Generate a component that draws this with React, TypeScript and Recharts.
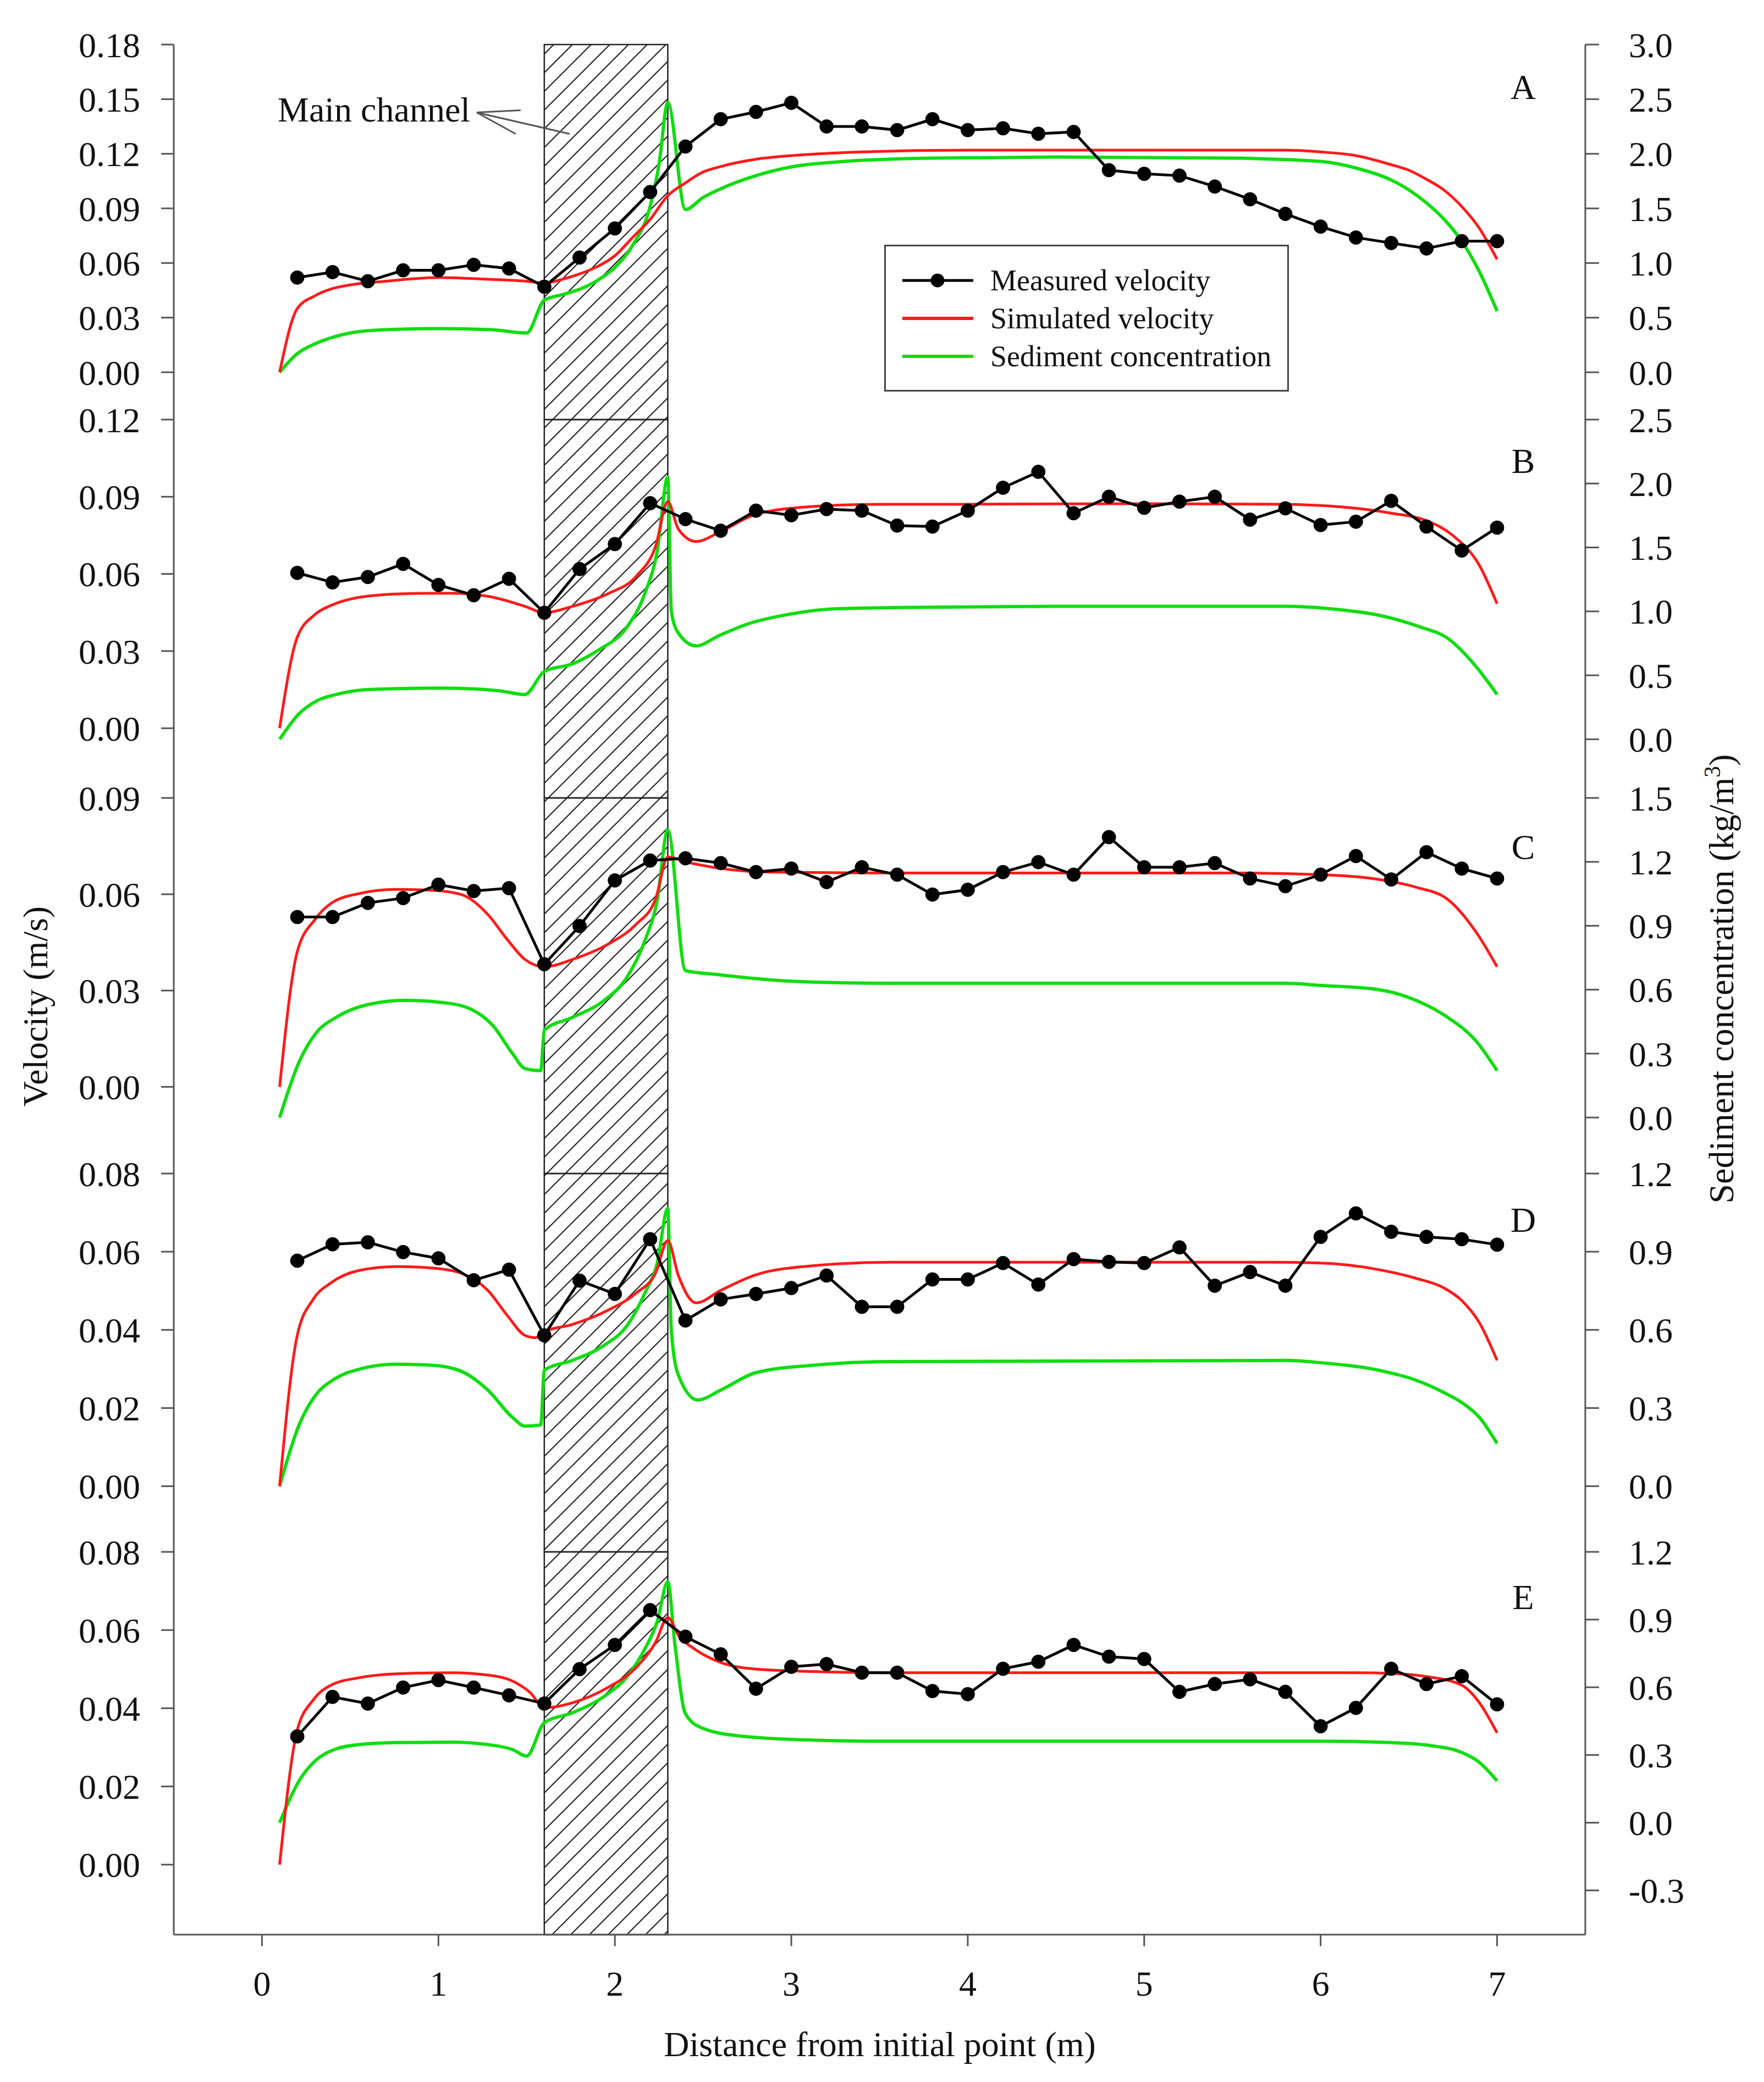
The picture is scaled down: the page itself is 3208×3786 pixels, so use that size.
import React from 'react'
import { LineChart, Line, XAxis, YAxis, ReferenceArea, ReferenceLine, Legend } from 'recharts'

const FONT = '"Liberation Serif", "DejaVu Serif", serif'
const PAGE_W = 3208
const PAGE_H = 3786
const PAD = 40
const AXIS = '#555'
const RED = '#ff1a1a'
const GREEN = '#10dd10'

const X_TICKS = [0, 1, 2, 3, 4, 5, 6, 7]

// distance of each measuring point (m)
const MEASURED_X = [
  0.2, 0.4, 0.6, 0.8, 1.0, 1.2, 1.4, 1.6, 1.8, 2.0, 2.2, 2.4, 2.6, 2.8, 3.0, 3.2, 3.4, 3.6,
  3.8, 4.0, 4.2, 4.4, 4.6, 4.8, 5.0, 5.2, 5.4, 5.6, 5.8, 6.0, 6.2, 6.4, 6.6, 6.8, 7.0,
]

// measured velocity (m/s)
const measuredA = [
  0.052, 0.055, 0.05, 0.056, 0.056, 0.059, 0.057, 0.047, 0.063, 0.079, 0.099, 0.124, 0.139, 0.143,
  0.148, 0.135, 0.135, 0.133, 0.139, 0.133, 0.134, 0.131, 0.132, 0.111, 0.109, 0.108, 0.102, 0.095,
  0.087, 0.08, 0.074, 0.071, 0.068, 0.072, 0.072,
]
const measuredB = [
  0.0604, 0.0567, 0.0588, 0.0639, 0.0557, 0.0517, 0.0581, 0.0449, 0.0619, 0.0716, 0.0875, 0.0813,
  0.0768, 0.0846, 0.0828, 0.0852, 0.0846, 0.0788, 0.0784, 0.0846, 0.0935, 0.0997, 0.0836, 0.09,
  0.0857, 0.0881, 0.09, 0.0811, 0.0855, 0.079, 0.0803, 0.0884, 0.0784, 0.0691, 0.078,
]
const measuredC = [
  0.0529, 0.0529, 0.0573, 0.0588, 0.063, 0.061, 0.0619, 0.0382, 0.0501, 0.0643, 0.0705, 0.0712,
  0.0697, 0.0669, 0.068, 0.0638, 0.0684, 0.0661, 0.0599, 0.0614, 0.0669, 0.07, 0.0661, 0.0778,
  0.0684, 0.0684, 0.0697, 0.0649, 0.0625, 0.0661, 0.0719, 0.0646, 0.0731, 0.068, 0.0649,
]
const measuredD = [
  0.0577, 0.0619, 0.0624, 0.0599, 0.0583, 0.0527, 0.0554, 0.0386, 0.0526, 0.0492, 0.0632, 0.0424,
  0.0478, 0.0492, 0.0507, 0.0539, 0.0459, 0.0459, 0.0529, 0.0529, 0.0571, 0.0516, 0.0581, 0.0574,
  0.0571, 0.0611, 0.0513, 0.0548, 0.0513, 0.0638, 0.0698, 0.0651, 0.0638, 0.0632, 0.0618,
]
const measuredE = [
  0.0328, 0.0429, 0.0412, 0.0453, 0.0472, 0.0453, 0.0433, 0.0412, 0.05, 0.0562, 0.0651, 0.0583,
  0.0538, 0.045, 0.0506, 0.0513, 0.0491, 0.0491, 0.0444, 0.0436, 0.0501, 0.0519, 0.0562, 0.0532,
  0.0526, 0.0442, 0.0462, 0.0474, 0.0442, 0.0354, 0.0401, 0.0501, 0.0462, 0.0482, 0.041,
]

// simulated velocity (m/s), [distance, value]
const simulatedA = [
  [0.1, 0], [0.2, 0.035], [0.3, 0.042], [0.4, 0.046], [0.5, 0.048], [0.7, 0.05], [1.0, 0.052],
  [1.3, 0.051], [1.5, 0.05], [1.6, 0.049], [1.7, 0.051], [1.8, 0.054], [1.9, 0.058], [2.0, 0.064],
  [2.1, 0.074], [2.2, 0.084], [2.3, 0.097], [2.4, 0.104], [2.5, 0.11], [2.6, 0.113], [2.8, 0.117],
  [3.0, 0.119], [3.4, 0.121], [4.0, 0.122], [5.0, 0.122], [5.8, 0.122], [6.0, 0.121], [6.2, 0.119],
  [6.4, 0.114], [6.5, 0.111], [6.6, 0.106], [6.7, 0.1], [6.8, 0.091], [6.9, 0.079], [7.0, 0.062],
]
const simulatedB = [
  [0.1, 0], [0.2, 0.0354], [0.3, 0.0442], [0.4, 0.048], [0.55, 0.0509], [0.8, 0.0523], [1.07, 0.0525],
  [1.28, 0.0513], [1.49, 0.0474], [1.6, 0.0449], [1.76, 0.0474], [1.96, 0.0523], [2.12, 0.059],
  [2.23, 0.0706], [2.3, 0.0881], [2.36, 0.0774], [2.46, 0.0726], [2.6, 0.0765], [2.8, 0.0832],
  [3.1, 0.0861], [3.5, 0.0871], [4.0, 0.0871], [5.0, 0.0873], [5.8, 0.0871], [6.0, 0.0866],
  [6.2, 0.0855], [6.4, 0.0836], [6.6, 0.0807], [6.75, 0.0749], [6.9, 0.0633], [7.0, 0.0484],
]
const simulatedC = [
  [0.1, 0], [0.2, 0.0421], [0.3, 0.0521], [0.39, 0.0571], [0.55, 0.0602], [0.76, 0.0615],
  [0.97, 0.0612], [1.13, 0.0599], [1.28, 0.0537], [1.39, 0.0459], [1.49, 0.0397], [1.6, 0.0374],
  [1.76, 0.0397], [1.96, 0.0444], [2.12, 0.0506], [2.23, 0.0584], [2.3, 0.0716], [2.41, 0.07],
  [2.86, 0.0669], [3.5, 0.0666], [5.5, 0.0666], [6.0, 0.0661], [6.33, 0.0646], [6.54, 0.0622],
  [6.72, 0.0584], [6.88, 0.0483], [7.0, 0.0374],
]
const simulatedD = [
  [0.1, 0], [0.2, 0.0386], [0.29, 0.0478], [0.39, 0.052], [0.55, 0.0552], [0.76, 0.0562],
  [0.97, 0.0558], [1.13, 0.0545], [1.28, 0.0501], [1.39, 0.0437], [1.49, 0.0386], [1.55, 0.038],
  [1.6, 0.0395], [1.76, 0.0414], [1.96, 0.045], [2.12, 0.0494], [2.23, 0.0545], [2.3, 0.0628],
  [2.36, 0.0539], [2.46, 0.0469], [2.6, 0.0501], [2.8, 0.0541], [3.12, 0.0564], [3.56, 0.0573],
  [5.7, 0.0573], [6.0, 0.0571], [6.33, 0.0554], [6.54, 0.0532], [6.7, 0.0507], [6.8, 0.0475],
  [6.9, 0.0418], [7.0, 0.0322],
]
const simulatedE = [
  [0.1, 0], [0.2, 0.0344], [0.29, 0.0421], [0.39, 0.0459], [0.55, 0.0478], [0.76, 0.0488],
  [1.07, 0.0491], [1.28, 0.0485], [1.44, 0.0465], [1.52, 0.044], [1.6, 0.0401], [1.76, 0.0414],
  [1.96, 0.0453], [2.12, 0.0504], [2.23, 0.0568], [2.3, 0.0632], [2.36, 0.0587], [2.46, 0.0549],
  [2.6, 0.0517], [2.8, 0.05], [3.12, 0.0494], [3.56, 0.0491], [6.2, 0.0491], [6.4, 0.0489],
  [6.6, 0.0481], [6.8, 0.0459], [6.9, 0.0414], [7.0, 0.0337],
]

// sediment concentration (kg/m3), [distance, value]
const sedimentA = [
  [0.1, 0], [0.2, 0.17], [0.3, 0.26], [0.4, 0.32], [0.5, 0.36], [0.7, 0.39], [1.0, 0.4], [1.3, 0.39],
  [1.5, 0.36], [1.6, 0.66], [1.7, 0.71], [1.8, 0.76], [1.9, 0.84], [2.0, 0.96], [2.1, 1.16],
  [2.2, 1.52], [2.25, 1.9], [2.3, 2.47], [2.4, 1.49], [2.5, 1.6], [2.6, 1.68], [2.8, 1.8], [3.0, 1.88],
  [3.3, 1.93], [3.8, 1.96], [4.5, 1.97], [5.5, 1.96], [6.0, 1.93], [6.2, 1.87], [6.4, 1.76],
  [6.5, 1.67], [6.6, 1.55], [6.7, 1.4], [6.8, 1.2], [6.9, 0.92], [7.0, 0.56],
]
const sedimentB = [
  [0.1, 0], [0.21, 0.2], [0.31, 0.3], [0.42, 0.35], [0.63, 0.39], [1.02, 0.4], [1.34, 0.38],
  [1.49, 0.35], [1.6, 0.53], [1.76, 0.59], [1.91, 0.7], [2.07, 0.88], [2.17, 1.14], [2.24, 1.47],
  [2.3, 2.05], [2.32, 1.0], [2.36, 0.83], [2.46, 0.73], [2.59, 0.81], [2.75, 0.9], [3.0, 0.98],
  [3.25, 1.02], [3.6, 1.03], [4.5, 1.04], [5.8, 1.04], [6.06, 1.02], [6.33, 0.97], [6.56, 0.88],
  [6.72, 0.79], [6.88, 0.57], [7.0, 0.35],
]
const sedimentC = [
  [0.1, 0], [0.21, 0.26], [0.31, 0.4], [0.42, 0.47], [0.6, 0.53], [0.81, 0.55], [1.02, 0.54],
  [1.18, 0.51], [1.31, 0.43], [1.42, 0.3], [1.49, 0.23], [1.58, 0.22], [1.6, 0.41], [1.76, 0.47],
  [1.94, 0.55], [2.07, 0.66], [2.17, 0.83], [2.24, 1.02], [2.3, 1.35], [2.4, 0.69], [2.59, 0.67],
  [3.0, 0.64], [3.56, 0.63], [5.8, 0.63], [6.0, 0.62], [6.33, 0.6], [6.54, 0.55], [6.72, 0.47],
  [6.88, 0.36], [7.0, 0.22],
]
const sedimentD = [
  [0.1, 0], [0.21, 0.235], [0.3, 0.346], [0.41, 0.411], [0.55, 0.449], [0.76, 0.468], [0.97, 0.464],
  [1.13, 0.441], [1.28, 0.369], [1.42, 0.264], [1.49, 0.231], [1.58, 0.235], [1.6, 0.445],
  [1.76, 0.483], [1.94, 0.541], [2.07, 0.617], [2.17, 0.741], [2.24, 0.856], [2.3, 1.066],
  [2.32, 0.598], [2.36, 0.426], [2.47, 0.331], [2.6, 0.369], [2.8, 0.436], [3.12, 0.464],
  [3.56, 0.478], [5.8, 0.483], [6.0, 0.474], [6.33, 0.445], [6.54, 0.407], [6.7, 0.359],
  [6.8, 0.321], [6.9, 0.264], [7.0, 0.164],
]
const sedimentE = [
  [0.1, 0], [0.21, 0.185], [0.3, 0.273], [0.41, 0.324], [0.55, 0.346], [0.76, 0.355], [1.07, 0.357],
  [1.28, 0.346], [1.42, 0.324], [1.5, 0.295], [1.6, 0.443], [1.76, 0.487], [1.94, 0.56],
  [2.07, 0.648], [2.17, 0.77], [2.24, 0.891], [2.3, 1.068], [2.34, 0.792], [2.4, 0.483],
  [2.49, 0.421], [2.72, 0.383], [3.12, 0.366], [3.56, 0.361], [6.0, 0.361], [6.4, 0.355],
  [6.6, 0.344], [6.8, 0.311], [6.9, 0.267], [7.0, 0.185],
]

// tick labels
const velTicksA = [0, 0.03, 0.06, 0.09, 0.12, 0.15, 0.18]
const velTicksB = [0, 0.03, 0.06, 0.09, 0.12]
const velTicksC = [0, 0.03, 0.06, 0.09]
const velTicksDE = [0, 0.02, 0.04, 0.06, 0.08]
const sedTicksA = [0, 0.5, 1.0, 1.5, 2.0, 2.5, 3.0]
const sedTicksB = [0, 0.5, 1.0, 1.5, 2.0, 2.5]
const sedTicksC = [0, 0.3, 0.6, 0.9, 1.2, 1.5]
const sedTicksD = [0, 0.3, 0.6, 0.9, 1.2]
const sedTicksE = [-0.3, 0, 0.3, 0.6, 0.9, 1.2]

// main channel reach (m)
const CHANNEL = [1.6, 2.3]

// "Main channel" arrow, in distance / velocity units of panel A
const ARROW = [
  [[1.744, 0.1309], [1.217, 0.1427]],
  [[1.466, 0.1439], [1.217, 0.1427]],
  [[1.438, 0.1309], [1.217, 0.1427]],
]

const LEGEND_ORDER = ['Measured velocity', 'Simulated velocity', 'Sediment concentration']

const PANELS = [
  { key: 'A', measured: measuredA, simulated: simulatedA, sediment: sedimentA, velDomain: [-0.026, 0.18], velTicks: velTicksA, sedDomain: [-0.433, 3.0], sedTicks: sedTicksA, top: 81, bottom: 763, letterY: 180 },
  { key: 'B', measured: measuredB, simulated: simulatedB, sediment: sedimentB, velDomain: [-0.0271, 0.12], velTicks: velTicksB, sedDomain: [-0.459, 2.5], sedTicks: sedTicksB, top: 763, bottom: 1451, letterY: 860 },
  { key: 'C', measured: measuredC, simulated: simulatedC, sediment: sedimentC, velDomain: [-0.027, 0.09], velTicks: velTicksC, sedDomain: [-0.263, 1.5], sedTicks: sedTicksC, top: 1451, bottom: 2134, letterY: 1562 },
  { key: 'D', measured: measuredD, simulated: simulatedD, sediment: sedimentD, velDomain: [-0.0168, 0.08], velTicks: velTicksDE, sedDomain: [-0.252, 1.2], sedTicks: sedTicksD, top: 2134, bottom: 2822, letterY: 2240 },
  { key: 'E', measured: measuredE, simulated: simulatedE, sediment: sedimentE, velDomain: [-0.0179, 0.08], velTicks: velTicksDE, sedDomain: [-0.496, 1.2], sedTicks: sedTicksE, top: 2822, bottom: 3518, letterY: 2926 },
]

const tickFont = { fill: '#111', fontSize: 64, fontFamily: FONT }
const axisLine = { stroke: AXIS, strokeWidth: 3 }

const LegendBox = (props: any) => {
  const payload = props.payload || []
  const rows = [65, 134, 203]
  return (
    <svg width={736} height={267} style={{ display: 'block', background: '#fff' }}>
      <rect x={1.5} y={1.5} width={733} height={264} fill="#fff" stroke="#444" strokeWidth={3} />
      {LEGEND_ORDER.map((name, i) => {
        const entry = payload.find((p: any) => p.value === name)
        const color = entry ? entry.color : '#000'
        const y = rows[i]
        return (
          <g key={name}>
            <line x1={33} x2={162} y1={y} y2={y} stroke={color} strokeWidth={i === 0 ? 5 : 6} />
            {i === 0 && <circle cx={97} cy={y} r={12.5} fill={color} />}
            <text x={193} y={y + 18} fontFamily={FONT} fontSize={54} fill="#111">
              {name}
            </text>
          </g>
        )
      })}
    </svg>
  )
}

const Panel = ({ p, first, last }: any) => {
  const chartTop = p.top - PAD
  const xAxisH = last ? PAGE_H - p.bottom : 0
  const height = PAD + (p.bottom - p.top) + (last ? xAxisH : PAD)
  const hatchId = 'hatch' + p.key
  const measured = MEASURED_X.map((x, i) => ({ x, y: p.measured[i] }))
  const simulated = p.simulated.map(([x, y]: number[]) => ({ x, y }))
  const sediment = p.sediment.map(([x, y]: number[]) => ({ x, y }))

  return (
    <div style={{ position: 'absolute', left: 0, top: chartTop }}>
      <LineChart width={PAGE_W} height={height} margin={{ top: PAD, right: 0, bottom: last ? 0 : PAD, left: 0 }}>
        <defs>
          <pattern id={hatchId} patternUnits="userSpaceOnUse" x={0} y={-chartTop} width={34} height={34}>
            <path d="M-8.5,8.5 L8.5,-8.5 M0,34 L34,0 M25.5,42.5 L42.5,25.5" stroke="#222" strokeWidth={2.2} />
          </pattern>
        </defs>
        <XAxis
          xAxisId="b"
          type="number"
          dataKey="x"
          domain={[-0.5, 7.5]}
          ticks={X_TICKS}
          interval={0}
          allowDataOverflow
          height={xAxisH}
          mirror={!last}
          tick={last ? tickFont : false}
          tickSize={last ? 21 : 15}
          tickMargin={45}
          axisLine={axisLine}
          tickLine={{ stroke: AXIS, strokeWidth: 3 }}
        />
        <XAxis
          xAxisId="t"
          orientation="top"
          type="number"
          domain={[-0.5, 7.5]}
          ticks={X_TICKS}
          interval={0}
          allowDataOverflow
          height={0}
          mirror
          tick={false}
          tickSize={15}
          axisLine={axisLine}
          tickLine={first ? false : { stroke: AXIS, strokeWidth: 3 }}
        />
        <YAxis
          yAxisId="l"
          type="number"
          width={316}
          domain={p.velDomain}
          ticks={p.velTicks}
          interval={0}
          allowDataOverflow
          tickSize={23}
          tickMargin={38}
          tick={tickFont}
          tickFormatter={(v: number) => v.toFixed(2)}
          axisLine={axisLine}
          tickLine={{ stroke: AXIS, strokeWidth: 3 }}
        />
        <YAxis
          yAxisId="r"
          orientation="right"
          type="number"
          width={PAGE_W - 2883}
          domain={p.sedDomain}
          ticks={p.sedTicks}
          interval={0}
          allowDataOverflow
          tickSize={25}
          tickMargin={54}
          tick={tickFont}
          tickFormatter={(v: number) => v.toFixed(1)}
          axisLine={axisLine}
          tickLine={{ stroke: AXIS, strokeWidth: 3 }}
        />
        <ReferenceArea
          xAxisId="b"
          yAxisId="l"
          x1={CHANNEL[0]}
          x2={CHANNEL[1]}
          fill={`url(#${hatchId})`}
          fillOpacity={1}
          stroke="#222"
          strokeWidth={2.5}
          ifOverflow="visible"
        />
        {first &&
          ARROW.map((seg, i) => (
            <ReferenceLine
              key={i}
              xAxisId="b"
              yAxisId="l"
              segment={seg.map(([x, y]) => ({ x, y }))}
              stroke="#555"
              strokeWidth={3}
              ifOverflow="visible"
            />
          ))}
        <Line
          xAxisId="b"
          yAxisId="r"
          data={sediment}
          dataKey="y"
          name="Sediment concentration"
          type="monotone"
          stroke={GREEN}
          strokeWidth={6}
          dot={false}
          activeDot={false}
          isAnimationActive={false}
        />
        <Line
          xAxisId="b"
          yAxisId="l"
          data={simulated}
          dataKey="y"
          name="Simulated velocity"
          type="monotone"
          stroke={RED}
          strokeWidth={5}
          dot={false}
          activeDot={false}
          isAnimationActive={false}
        />
        <Line
          xAxisId="b"
          yAxisId="l"
          data={measured}
          dataKey="y"
          name="Measured velocity"
          type="linear"
          stroke="#000"
          strokeWidth={5}
          dot={{ r: 12.5, fill: '#000', stroke: '#000', strokeWidth: 1 }}
          activeDot={false}
          isAnimationActive={false}
        />
        {first && (
          <Legend
            layout="vertical"
            align="center"
            verticalAlign="middle"
            content={LegendBox}
            wrapperStyle={{ left: 1608, top: 445 - chartTop, width: 736, height: 267 }}
          />
        )}
      </LineChart>
    </div>
  )
}

const App = () => {
  return (
    <div style={{ position: 'absolute', left: 0, top: 0, width: PAGE_W, height: PAGE_H, background: '#fff', overflow: 'hidden' }}>
      {PANELS.map((p, i) => (
        <Panel key={p.key} p={p} first={i === 0} last={i === PANELS.length - 1} />
      ))}
      <svg
        width={PAGE_W}
        height={PAGE_H}
        style={{ position: 'absolute', left: 0, top: 0, pointerEvents: 'none' }}
        fontFamily={FONT}
        fill="#111"
      >
        <text x={505} y={221} fontSize={64}>
          Main channel
        </text>
        {PANELS.map((p) => (
          <text key={p.key} x={2770} y={p.letterY} fontSize={64} textAnchor="middle">
            {p.key}
          </text>
        ))}
        <text x={86} y={1830} fontSize={64} textAnchor="middle" transform="rotate(-90, 86, 1830)">
          Velocity (m/s)
        </text>
        <text x={3152} y={1780} fontSize={64} textAnchor="middle" transform="rotate(-90, 3152, 1780)">
          <tspan>Sediment concentration (kg/m</tspan>
          <tspan fontSize={42} dy={-24}>3</tspan>
          <tspan dy={24}>)</tspan>
        </text>
        <text x={1600} y={3739} fontSize={64} textAnchor="middle">
          Distance from initial point (m)
        </text>
      </svg>
    </div>
  )
}

export default App
